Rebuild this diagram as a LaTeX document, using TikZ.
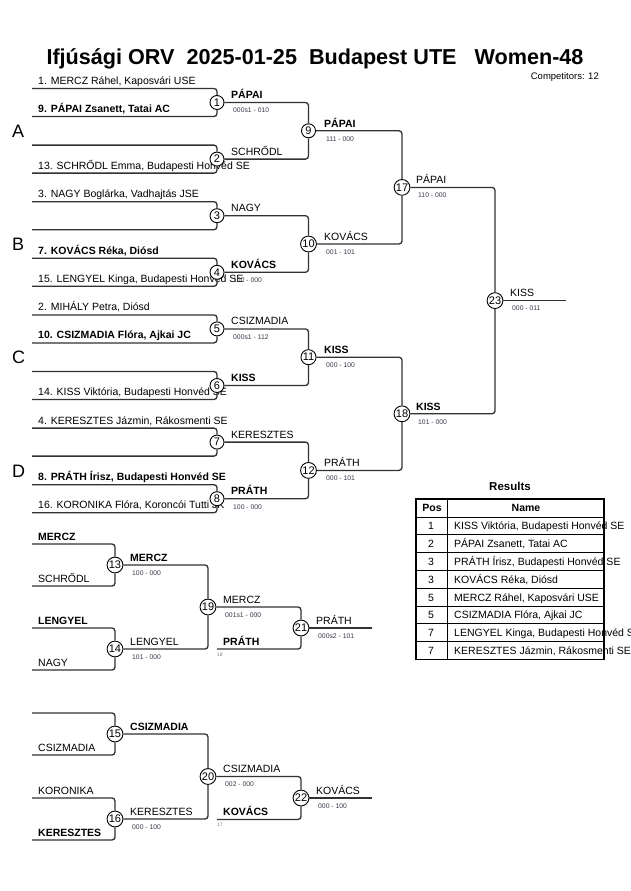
\documentclass[tikz,border=0pt]{standalone}
\usepackage{fontspec}
\setmainfont{Liberation Sans}
\definecolor{linec}{RGB}{50,50,50}
\definecolor{scorec}{RGB}{60,55,75}
\begin{document}
\begin{tikzpicture}[x=1pt,y=-1pt,
  br/.style={draw=linec, line width=1.3pt, rounded corners=3pt},
  circ/.style={circle, draw=black, line width=0.9pt, fill=white, inner sep=0.5pt, minimum size=14pt, font=\fontsize{11}{12}\selectfont},
  nm/.style={anchor=base west, inner sep=0pt, font=\fontsize{10.5}{12}\selectfont},
  nmb/.style={anchor=base west, inner sep=0pt, font=\fontsize{10.5}{12}\selectfont\bfseries},
  sc/.style={anchor=base west, inner sep=0pt, font=\fontsize{6.8}{8}\selectfont, text=scorec},
  tinyl/.style={anchor=base west, inner sep=0pt, font=\fontsize{5}{6}\selectfont, text=gray},
  grp/.style={anchor=base west, inner sep=0pt, font=\fontsize{18}{20}\selectfont},
  tcell/.style={anchor=base, inner sep=0pt, font=\fontsize{10.5}{12}\selectfont},
  tname/.style={anchor=base west, inner sep=0pt, font=\fontsize{10.5}{12}\selectfont}]
\useasboundingbox (0,0) rectangle (630,891);
\fill[white] (0,0) rectangle (630,891);

% title
\node[anchor=base, inner sep=0pt, font=\fontsize{21.6}{24}\selectfont\bfseries] (title) at (315,65) {Ifjúsági ORV\ \ 2025-01-25\ \ Budapest UTE\ \ \ Women-48};
\node[anchor=base east, inner sep=0pt, font=\fontsize{9.5}{11}\selectfont] (comp) at (599,79) {Competitors: 12};

% group letters
\node[grp] (gA) at (12,137) {A};
\node[grp] (gB) at (12,250) {B};
\node[grp] (gC) at (12,363) {C};
\node[grp] (gD) at (12,477) {D};

% start coordinates of first round lines
\coordinate (a1) at (32,88.5);  \coordinate (b1) at (32,116.5);
\coordinate (a2) at (32,145.1); \coordinate (b2) at (32,173.1);
\coordinate (a3) at (32,201.7); \coordinate (b3) at (32,229.7);
\coordinate (a4) at (32,258.3); \coordinate (b4) at (32,286.3);
\coordinate (a5) at (32,314.9); \coordinate (b5) at (32,342.9);
\coordinate (a6) at (32,371.5); \coordinate (b6) at (32,399.5);
\coordinate (a7) at (32,428.1); \coordinate (b7) at (32,456.1);
\coordinate (a8) at (32,484.7); \coordinate (b8) at (32,512.7);

% competitor names
\node[nm]  (n1)  at (38,84.5)  {1. MERCZ Ráhel, Kaposvári USE};
\node[nmb] (n9)  at (38,112.5) {9. PÁPAI Zsanett, Tatai AC};
\node[nm]  (n13) at (38,169.1) {13. SCHRŐDL Emma, Budapesti Honvéd SE};
\node[nm]  (n3)  at (38,197.7) {3. NAGY Boglárka, Vadhajtás JSE};
\node[nmb] (n7)  at (38,254.3) {7. KOVÁCS Réka, Diósd};
\node[nm]  (n15) at (38,282.3) {15. LENGYEL Kinga, Budapesti Honvéd SE};
\node[nm]  (n2)  at (38,310.9) {2. MIHÁLY Petra, Diósd};
\node[nmb] (n10) at (38,338.9) {10. CSIZMADIA Flóra, Ajkai JC};
\node[nm]  (n14) at (38,395.5) {14. KISS Viktória, Budapesti Honvéd SE};
\node[nm]  (n4)  at (38,424.1) {4. KERESZTES Jázmin, Rákosmenti SE};
\node[nmb] (n8)  at (38,480.7) {8. PRÁTH Írisz, Budapesti Honvéd SE};
\node[nm]  (n16) at (38,508.7) {16. KORONIKA Flóra, Koroncói Tutti JK};

% winner labels and scores, round 1
\node[nmb] (w1) at (231,98.5) {PÁPAI};      \node[sc] (s1) at (233,112) {000s1 - 010};
\node[nm]  (w2) at (231,155.1) {SCHRŐDL};
\node[nm]  (w3) at (231,211.7) {NAGY};
\node[sc]  (s4) at (233,282.8) {100 - 000}; \node[nmb] (w4) at (231,268.3) {KOVÁCS};
\node[nm]  (w5) at (231,324.9) {CSIZMADIA}; \node[sc] (s5) at (233,339.4) {000s1 - 112};
\node[nmb] (w6) at (231,381.5) {KISS};
\node[nm]  (w7) at (231,438.1) {KERESZTES};
\node[nmb] (w8) at (231,494.7) {PRÁTH};      \node[sc] (s8) at (233,509.2) {100 - 000};
% round 2
\node[nmb] (w9)  at (324,127)   {PÁPAI};   \node[sc] (s9)  at (326,141)   {111 - 000};
\node[nm]  (w10) at (324,240.2) {KOVÁCS};  \node[sc] (s10) at (326,254.2) {001 - 101};
\node[nmb] (w11) at (324,353.4) {KISS};    \node[sc] (s11) at (326,367.4) {000 - 100};
\node[nm]  (w12) at (324,466.6) {PRÁTH};   \node[sc] (s12) at (326,480.6) {000 - 101};
% round 3
\node[nm]  (w17) at (416,183.6) {PÁPAI};   \node[sc] (s17) at (418,197.6) {110 - 000};
\node[nmb] (w18) at (416,410)   {KISS};    \node[sc] (s18) at (418,424)   {101 - 000};
% final
\node[nm]  (w23) at (510,296.8) {KISS};    \node[sc] (s23) at (512,310.8) {000 - 011};
\coordinate (e23) at (566,300.6);

% circles main bracket
\node[circ] (m1) at (217,102.5) {1};
\node[circ] (m2) at (217,159.1) {2};
\node[circ] (m3) at (217,215.7) {3};
\node[circ] (m4) at (217,272.3) {4};
\node[circ] (m5) at (217,328.9) {5};
\node[circ] (m6) at (217,385.5) {6};
\node[circ] (m7) at (217,442.1) {7};
\node[circ] (m8) at (217,498.7) {8};
\node[circ] (m9)  at (308.5,130.8) {9};
\node[circ] (m10) at (308.5,244.0) {10};
\node[circ] (m11) at (308.5,357.2) {11};
\node[circ] (m12) at (308.5,470.4) {12};
\node[circ] (m17) at (402,187.4) {17};
\node[circ] (m18) at (402,413.8) {18};
\node[circ] (m23) at (495,300.6) {23};

% connectors main bracket
\foreach \i in {1,...,8}{
  \draw[br] (a\i) -| (m\i);
  \draw[br] (b\i) -| (m\i);
}
\draw[br] (m1) -| (m9);  \draw[br] (m2) -| (m9);
\draw[br] (m3) -| (m10); \draw[br] (m4) -| (m10);
\draw[br] (m5) -| (m11); \draw[br] (m6) -| (m11);
\draw[br] (m7) -| (m12); \draw[br] (m8) -| (m12);
\draw[br] (m9) -| (m17); \draw[br] (m10) -| (m17);
\draw[br] (m11) -| (m18); \draw[br] (m12) -| (m18);
\draw[br] (m17) -| (m23); \draw[br] (m18) -| (m23);
\draw[br] (m23) -- (e23);

% ===== repechage 1 =====
\coordinate (ra13) at (32,544); \coordinate (rb13) at (32,586);
\coordinate (ra14) at (32,628); \coordinate (rb14) at (32,670);
\node[nmb] (r13a) at (38,540) {MERCZ};
\node[nm]  (r13b) at (38,582) {SCHRŐDL};
\node[nmb] (r14a) at (38,624) {LENGYEL};
\node[nm]  (r14b) at (38,666) {NAGY};
\node[nmb] (w13) at (130,561) {MERCZ};    \node[sc] (s13) at (132,575) {100 - 000};
\node[nm]  (w14) at (130,645) {LENGYEL};  \node[sc] (s14) at (132,659) {101 - 000};
\node[nm]  (w19) at (223,603) {MERCZ};    \node[sc] (s19) at (225,617) {001s1 - 000};
\node[nmb] (i21) at (223,645) {PRÁTH};
\node[tinyl] (t18) at (217,656) {18};
\node[nm]  (w21) at (316,624) {PRÁTH};    \node[sc] (s21) at (318,638) {000s2 - 101};
\coordinate (p18) at (217,649);
\coordinate (e21) at (372,628);
\node[circ] (m13) at (115,565) {13};
\node[circ] (m14) at (115,649) {14};
\node[circ] (m19) at (208,607) {19};
\node[circ] (m21) at (301,628) {21};
\draw[br] (ra13) -| (m13); \draw[br] (rb13) -| (m13);
\draw[br] (ra14) -| (m14); \draw[br] (rb14) -| (m14);
\draw[br] (m13) -| (m19);  \draw[br] (m14) -| (m19);
\draw[br] (m19) -| (m21);  \draw[br] (p18) -| (m21);
\draw[br] (m21) -- (e21);

% ===== repechage 2 =====
\coordinate (ra15) at (32,713); \coordinate (rb15) at (32,755);
\coordinate (ra16) at (32,798); \coordinate (rb16) at (32,840);
\node[nm]  (r15b) at (38,751) {CSIZMADIA};
\node[nm]  (r16a) at (38,794) {KORONIKA};
\node[nmb] (r16b) at (38,836) {KERESZTES};
\node[nmb] (w15) at (130,730) {CSIZMADIA};
\node[nm]  (w16) at (130,815) {KERESZTES}; \node[sc] (s16) at (132,829) {000 - 100};
\node[nm]  (w20) at (223,772.5) {CSIZMADIA}; \node[sc] (s20) at (225,786.5) {002 - 000};
\node[nmb] (i22) at (223,815.5) {KOVÁCS};
\node[tinyl] (t17) at (217,826.5) {17};
\node[nm]  (w22) at (316,794) {KOVÁCS};    \node[sc] (s22) at (318,808) {000 - 100};
\coordinate (p17) at (217,819.5);
\coordinate (e22) at (372,798);
\node[circ] (m15) at (115,734) {15};
\node[circ] (m16) at (115,819) {16};
\node[circ] (m20) at (208,776.5) {20};
\node[circ] (m22) at (301,798) {22};
\draw[br] (ra15) -| (m15); \draw[br] (rb15) -| (m15);
\draw[br] (ra16) -| (m16); \draw[br] (rb16) -| (m16);
\draw[br] (m15) -| (m20);  \draw[br] (m16) -| (m20);
\draw[br] (m20) -| (m22);  \draw[br] (p17) -| (m22);
\draw[br] (m22) -- (e22);

% ===== results table =====
\node[anchor=base, inner sep=0pt, font=\fontsize{11.5}{13}\selectfont\bfseries] (restitle) at (510,490.5) {Results};
\foreach \k in {1,...,8}{
  \draw[black, line width=0.8pt] (416,{517+(\k-1)*17.8}) -- (604,{517+(\k-1)*17.8});
}
\draw[black, line width=0.8pt] (447,499) -- (447,659.4);
\node[tcell, font=\fontsize{10.5}{12}\selectfont\bfseries] (hpos) at (432,511.5) {Pos};
\node[tcell, font=\fontsize{10.5}{12}\selectfont\bfseries] (hname) at (526,511.5) {Name};
\node[tcell] (p1) at (431,529.8) {1}; \node[tname] (r1) at (454,529.8) {KISS Viktória, Budapesti Honvéd SE};
\node[tcell] (p2) at (431,547.6) {2}; \node[tname] (r2) at (454,547.6) {PÁPAI Zsanett, Tatai AC};
\node[tcell] (p3) at (431,565.4) {3}; \node[tname] (r3) at (454,565.4) {PRÁTH Írisz, Budapesti Honvéd SE};
\node[tcell] (p4) at (431,583.2) {3}; \node[tname] (r4) at (454,583.2) {KOVÁCS Réka, Diósd};
\node[tcell] (p5) at (431,601.0) {5}; \node[tname] (r5) at (454,601.0) {MERCZ Ráhel, Kaposvári USE};
\node[tcell] (p6) at (431,618.8) {5}; \node[tname] (r6) at (454,618.8) {CSIZMADIA Flóra, Ajkai JC};
\node[tcell] (p7) at (431,636.6) {7}; \node[tname] (r7) at (454,636.6) {LENGYEL Kinga, Budapesti Honvéd SE};
\node[tcell] (p8) at (431,654.4) {7}; \node[tname] (r8) at (454,654.4) {KERESZTES Jázmin, Rákosmenti SE};
\draw[black, line width=1.6pt] (416,499) rectangle (604,659.4);
\end{tikzpicture}
\end{document}
